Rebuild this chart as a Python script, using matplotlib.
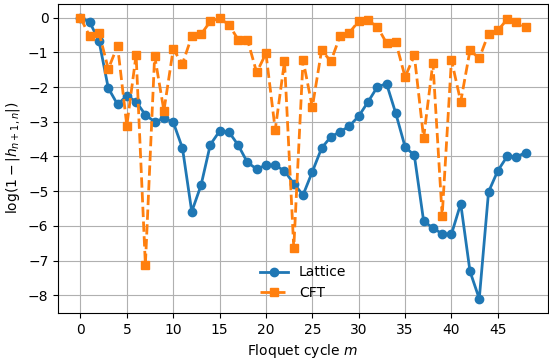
import numpy as np
import matplotlib
matplotlib.use('Agg')
import matplotlib.pyplot as plt

# log-fidelity per Floquet cycle, lattice simulation vs CFT prediction
cycles = np.arange(49)
lattice = [0.0, -0.13, -0.67, -2.03, -2.50, -2.25, -2.42, -2.80, -3.00, -2.90,
           -3.01, -3.76, -5.59, -4.83, -3.66, -3.27, -3.29, -3.67, -4.17, -4.36,
           -4.25, -4.25, -4.42, -4.78, -5.11, -4.44, -3.76, -3.43, -3.29, -3.12,
           -2.84, -2.43, -2.00, -1.90, -2.76, -3.72, -3.97, -5.86, -6.06, -6.23,
           -6.24, -5.36, -7.31, -8.10, -5.02, -4.41, -4.00, -4.01, -3.89]
cft = [0.0, -0.54, -0.43, -1.48, -0.81, -3.11, -1.07, -7.12, -1.10, -2.68,
       -0.91, -1.33, -0.54, -0.48, -0.11, -0.02, -0.20, -0.63, -0.63, -1.58,
       -1.03, -3.23, -1.26, -6.63, -1.22, -2.58, -0.94, -1.26, -0.52, -0.43,
       -0.10, -0.08, -0.26, -0.73, -0.70, -1.71, -1.09, -3.47, -1.30, -5.71,
       -1.22, -2.42, -0.94, -1.17, -0.46, -0.37, -0.05, -0.12, -0.28]

fig, ax = plt.subplots(figsize=(5.49, 3.6), dpi=100)
ax.plot(cycles, lattice, 'o-', lw=2, ms=6, color='tab:blue', label='Lattice')
ax.plot(cycles, cft, 's--', lw=2, ms=6, color='tab:orange', label='CFT')

ax.set_xticks(np.arange(0, 50, 5))
ax.set_yticks(np.arange(-8, 1, 1))
ax.grid(True)
ax.set_xlabel('Floquet cycle $m$')
ax.set_ylabel(r'$\log(1-|h_{n+1,n}|)$')
ax.legend(loc='lower center', frameon=False)

fig.subplots_adjust(left=0.106, right=0.998, top=0.99, bottom=0.131)
fig.savefig('out.png')
